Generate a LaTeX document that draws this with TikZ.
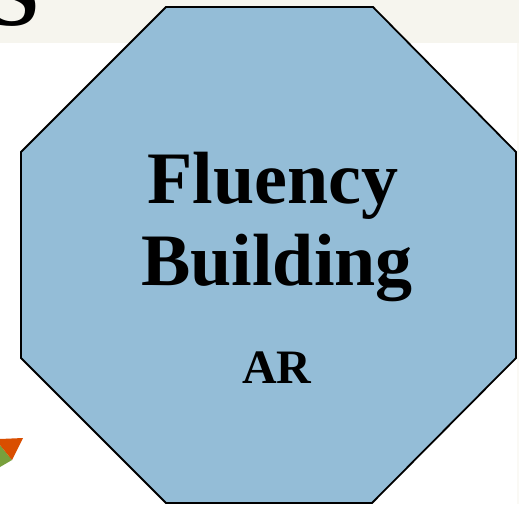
\documentclass[tikz,border=0pt]{standalone}
\usepackage{fontspec}
\setmainfont{Liberation Serif}
\definecolor{octfill}{HTML}{94BDD7}
\definecolor{band}{HTML}{F6F5EE}
\definecolor{orangetri}{HTML}{D94E00}
\definecolor{greentri}{HTML}{78A03C}
\tikzset{
  bigtext/.style={font=\bfseries\fontsize{74}{80}\selectfont, anchor=base, inner sep=0pt},
  smalltext/.style={font=\bfseries\fontsize{48}{52}\selectfont, anchor=base, inner sep=0pt}
}
\begin{document}
\begin{tikzpicture}[x=1pt,y=-1pt]
\useasboundingbox (0,0) rectangle (519,504);
\clip (0,0) rectangle (519,504);
\fill[white] (0,0) rectangle (519,504);
\fill[band] (0,0) rectangle (519,43);
\fill[band!60] (517,43) rectangle (519,504);
\node[font=\bfseries\fontsize{96}{96}\selectfont, anchor=base west, inner sep=0pt] (s) at (-14,25) {\textbf{S}};
\fill[greentri] (0,445) -- (12,460) -- (0,467) -- cycle;
\fill[orangetri] (0,439) -- (23,438) -- (12,460) -- (0,445) -- cycle;
\draw[fill=octfill, line width=1.8pt, line join=miter]
  (166,7) -- (373,7) -- (516,152) -- (516,358) -- (372,503) -- (166,503) -- (21,358) -- (21,152) -- cycle;
\node[bigtext] (t1) at (273,203) {Fluency};
\node[bigtext] (t2) at (277,285) {Building};
\node[smalltext] (t3) at (277,383) {AR};
\end{tikzpicture}
\end{document}
